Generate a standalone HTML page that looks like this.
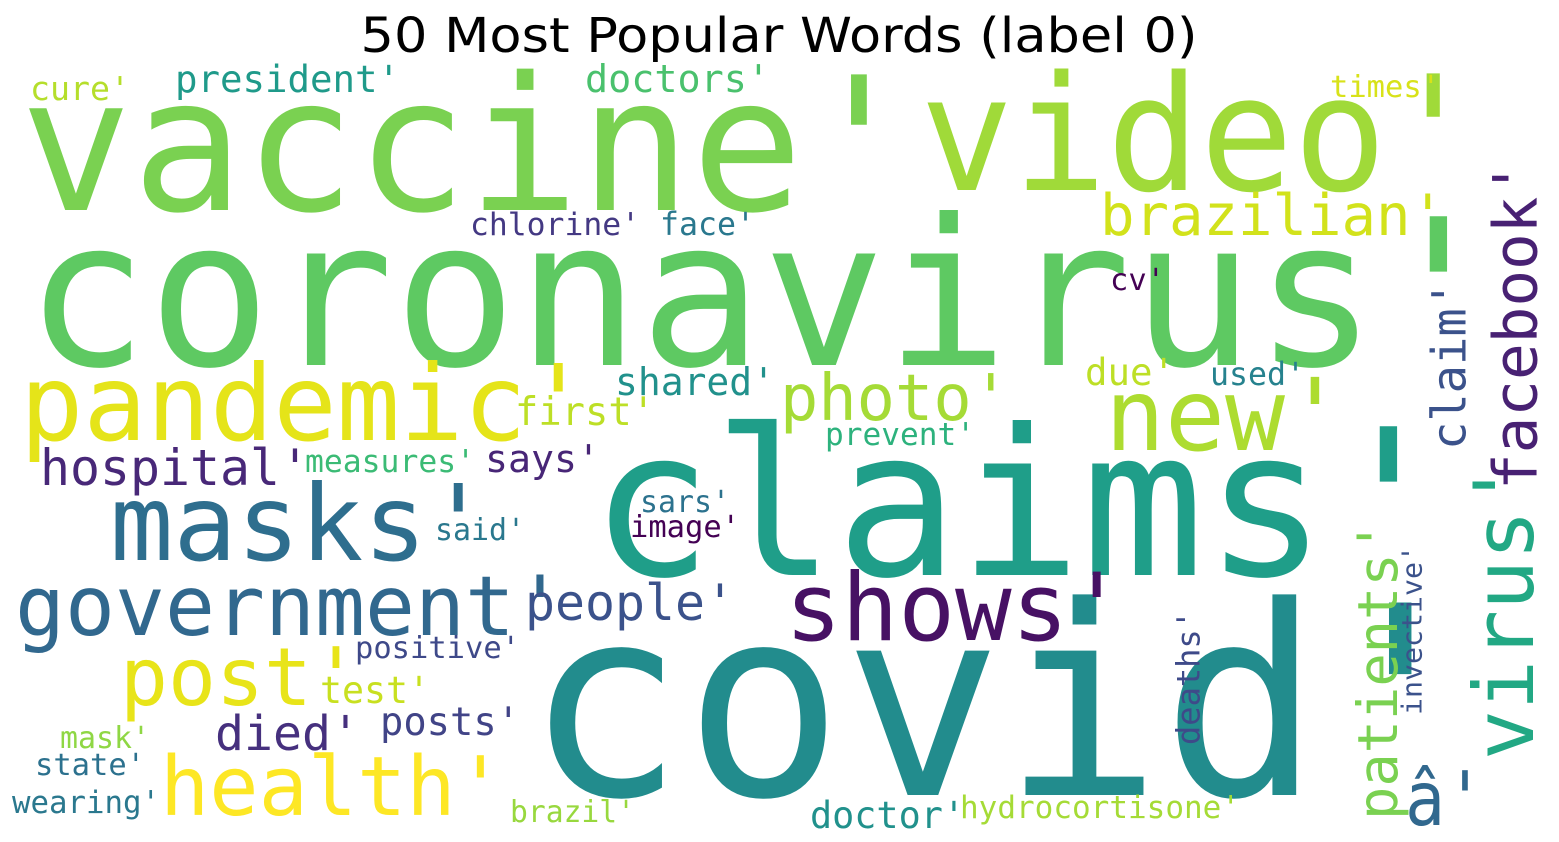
<!DOCTYPE html>
<html><head><meta charset="utf-8"><style>
html,body{margin:0;padding:0;background:#fff;}
svg{display:block;}
text{font-family:"DejaVu Sans Mono","Liberation Mono",monospace;}
</style></head><body>
<svg width="1559" height="842" viewBox="0 0 1559 842">
<text x="779" y="52" text-anchor="middle" font-size="48" textLength="837" lengthAdjust="spacingAndGlyphs" style="font-family:'DejaVu Sans','Liberation Sans',sans-serif" fill="#000">50 Most Popular Words (label 0)</text>
<g id="cloud"></g>
</svg>
<script>
// [word, left, baseline, fontSize, length, color, vertical]
const words=[
["vaccine'",20,210,186,895,"#7ad151",0],
["video'",920,190,160,560,"#a0da39",0],
["coronavirus'",25,365,204,1475,"#5ec962",0],
["covid'",525,795,264,955,"#228c8d",0],
["claims'",590,575,204,860,"#1f9e89",0],
["pandemic'",20,440,105,570,"#e5e419",0],
["masks'",110,560,105,380,"#2e6e8e",0],
["government'",15,635,83,550,"#31688e",0],
["post'",120,705,80,240,"#e8e419",0],
["health'",160,815,82,345,"#fde725",0],
["hospital'",40,485,50,270,"#482878",0],
["died'",215,750,48,145,"#46307e",0],
["shows'",785,640,94,340,"#471164",0],
["photo'",780,420,64,230,"#a5db36",0],
["new'",1105,450,100,240,"#addc30",0],
["brazilian'",1100,235,57,345,"#d2e21b",0],
["president'",175,92,37,225,"#1f9a8a",0],
["doctors'",585,92,38,185,"#4ac16d",0],
["cure'",30,100,33,100,"#b5de2b",0],
["times'",1330,97,30,110,"#d8e219",0],
["chlorine'",470,235,31,170,"#443983",0],
["face'",660,235,32,95,"#2a788e",0],
["cv'",1110,290,30,55,"#440154",0],
["shared'",615,395,38,160,"#21918c",0],
["first'",515,425,39,140,"#bddf26",0],
["due'",1085,385,37,90,"#bddf26",0],
["used'",1210,385,32,95,"#26828e",0],
["prevent'",825,445,31,150,"#2db27d",0],
["measures'",305,472,31,170,"#3bbb75",0],
["says'",485,472,38,115,"#482677",0],
["sars'",640,512,30,90,"#2c728e",0],
["image'",630,537,30,110,"#440154",0],
["said'",435,540,30,90,"#2a788e",0],
["people'",525,620,50,210,"#3b528b",0],
["positive'",355,658,30,165,"#3e4989",0],
["test'",320,703,37,110,"#c8e020",0],
["posts'",380,735,39,140,"#414487",0],
["mask'",60,748,30,90,"#8fd744",0],
["state'",35,775,30,110,"#2c718e",0],
["wearing'",12,813,31,148,"#2a788e",0],
["brazil'",510,822,30,125,"#98d83e",0],
["doctor'",810,828,37,155,"#21918c",0],
["hydrocortisone'",960,818,31,280,"#a5db36",0],
["â'",1405,825,75,80,"#31688e",0],
["facebook'",1490,490,61,330,"#482173",1],
["claim'",1430,450,47,170,"#3b528b",1],
["virus'",1470,760,83,300,"#22a884",1],
["patients'",1355,820,55,300,"#7ad151",1],
["deaths'",1175,745,32,135,"#3e4a89",1],
["invective'",1400,715,28,170,"#3b528b",1]
];
const g=document.getElementById('cloud');
const NS="http://www.w3.org/2000/svg";
for(const w of words){
  const t=document.createElementNS(NS,'text');
  t.textContent=w[0];
  t.setAttribute('font-size',w[3]);
  t.setAttribute('fill',w[5]);
  t.setAttribute('textLength',w[4]);
  t.setAttribute('lengthAdjust','spacingAndGlyphs');
  if(w[6]){
    const bx=w[1]+0.76*w[3];
    t.setAttribute('x',0);t.setAttribute('y',0);
    t.setAttribute('transform','translate('+bx+','+w[2]+') rotate(-90)');
  }else{
    t.setAttribute('x',w[1]);t.setAttribute('y',w[2]);
  }
  
  
  g.appendChild(t);
}
</script>
</body></html>
